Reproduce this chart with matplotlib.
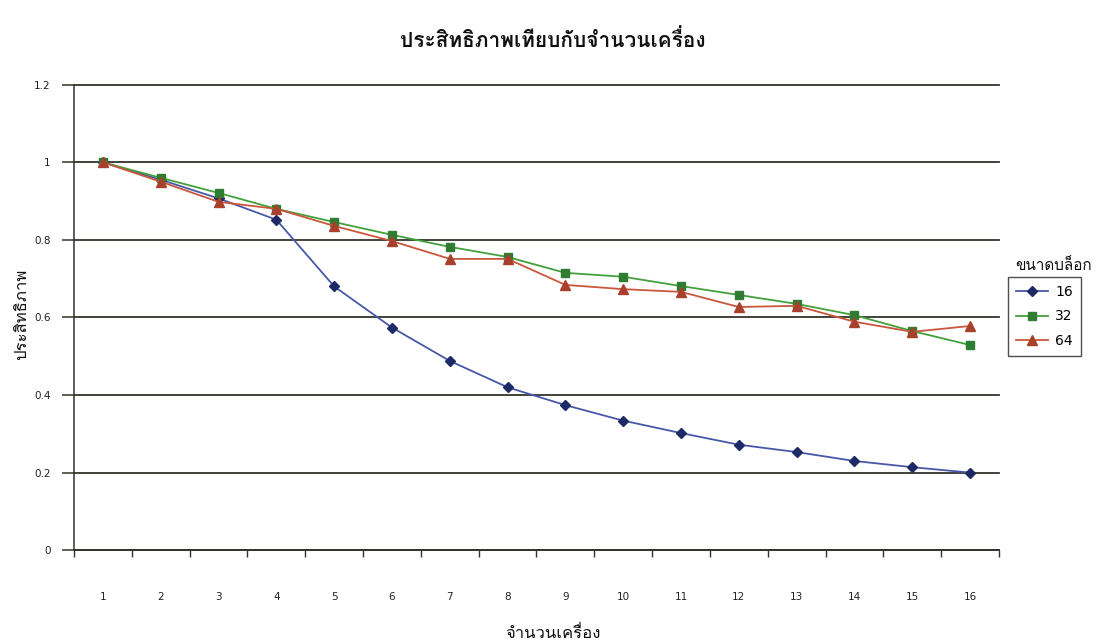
import matplotlib
matplotlib.use("Agg")
import matplotlib.pyplot as plt
from matplotlib import font_manager
from matplotlib.ft2font import FT2Font
from matplotlib.ticker import FixedLocator, NullFormatter

# ---- data ----
machines = list(range(1, 17))
eff_16 = [1.0, 0.955, 0.907, 0.852, 0.680, 0.574, 0.488, 0.420,
          0.374, 0.334, 0.302, 0.272, 0.253, 0.230, 0.214, 0.200]
eff_32 = [1.0, 0.960, 0.921, 0.880, 0.846, 0.813, 0.782, 0.756,
          0.715, 0.705, 0.681, 0.658, 0.635, 0.606, 0.565, 0.529]
eff_64 = [1.0, 0.950, 0.898, 0.880, 0.836, 0.797, 0.751, 0.751,
          0.684, 0.673, 0.666, 0.627, 0.630, 0.589, 0.563, 0.578]
series_labels = ["16", "32", "64"]
y_ticks = [0, 0.2, 0.4, 0.6, 0.8, 1.0, 1.2]
y_tick_labels = ["0", "0.2", "0.4", "0.6", "0.8", "1", "1.2"]

title_text = "ประสิทธิภาพเทียบกับจำนวนเครื่อง"
xlabel_text = "จำนวนเครื่อง"
ylabel_text = "ประสิทธิภาพ"
legend_title = "ขนาดบล็อก"


def thai_families():
    """Installed families that can draw Thai script."""
    found = []
    for fe in font_manager.fontManager.ttflist:
        if fe.name in found:
            continue
        try:
            cmap = FT2Font(fe.fname).get_charmap()
        except Exception:
            continue
        if 0x0E1B in cmap and 0x0E34 in cmap:
            found.append(fe.name)
    return found


thai = thai_families()
families = thai + ["DejaVu Sans"]
plt.rcParams["font.family"] = families

fig = plt.figure(figsize=(11.05, 6.42), dpi=100)
ax = fig.add_axes([0.067, 0.143, 0.837, 0.725])

grid_c = "#34342c"
styles = [
    dict(color="#4858a8", marker="D", mfc="#1e2a66", mec="#1e2a66", ms=5.5),
    dict(color="#44a03c", marker="s", mfc="#2f7d33", mec="#2f7d33", ms=5.5),
    dict(color="#c9573c", marker="^", mfc="#a8402c", mec="#a8402c", ms=6.5),
]
for vals, lab, st in zip([eff_16, eff_32, eff_64], series_labels, styles):
    ax.plot(machines, vals, lw=1.3, label=lab, zorder=3, **st)

ax.set_xlim(0.5, 16.5)
ax.set_ylim(0, 1.2)

ax.set_yticks(y_ticks)
ax.set_yticklabels(y_tick_labels, fontsize=7.5, family="DejaVu Sans", color="#222222")
ax.yaxis.grid(True, color=grid_c, lw=1.3)
for gl in ax.get_ygridlines():
    gl.set_clip_on(False)
ax.tick_params(axis="y", length=9, width=1.1, color=grid_c, pad=8)

ax.set_xticks(machines)
ax.set_xticklabels([str(m) for m in machines], fontsize=7.5,
                   family="DejaVu Sans", color="#222222")
ax.tick_params(axis="x", which="major", length=0, pad=30)
ax.xaxis.set_minor_locator(FixedLocator([i + 0.5 for i in range(0, 17)]))
ax.xaxis.set_minor_formatter(NullFormatter())
ax.tick_params(axis="x", which="minor", length=5, width=1.0, color=grid_c)

for s in ["top", "right"]:
    ax.spines[s].set_visible(False)
ax.spines["left"].set_color(grid_c)
ax.spines["bottom"].set_color(grid_c)
ax.spines["left"].set_linewidth(1.1)
ax.spines["bottom"].set_linewidth(1.3)
ax.set_axisbelow(True)

fig.text(0.5, 0.938, title_text, ha="center", va="center",
         fontsize=15, fontweight="bold", color="#111111")
fig.text(0.5, 0.013, xlabel_text, ha="center", va="center",
         fontsize=12, color="#111111")
fig.text(0.02, 0.51, ylabel_text, ha="center", va="center",
         rotation=90, fontsize=12, color="#111111")
fig.text(0.953, 0.587, legend_title, ha="center", va="center",
         fontsize=11, color="#111111")

leg = ax.legend(loc="upper left", bbox_to_anchor=(0.912, 0.569),
                bbox_transform=fig.transFigure, frameon=True, fancybox=False,
                edgecolor="#222222", handlelength=2.3, borderaxespad=0,
                borderpad=0.6, labelspacing=0.75, handletextpad=0.5,
                prop={"family": "DejaVu Sans", "size": 10})
leg.get_frame().set_linewidth(1.0)

fig.savefig("out.png", dpi=100, facecolor="white")
